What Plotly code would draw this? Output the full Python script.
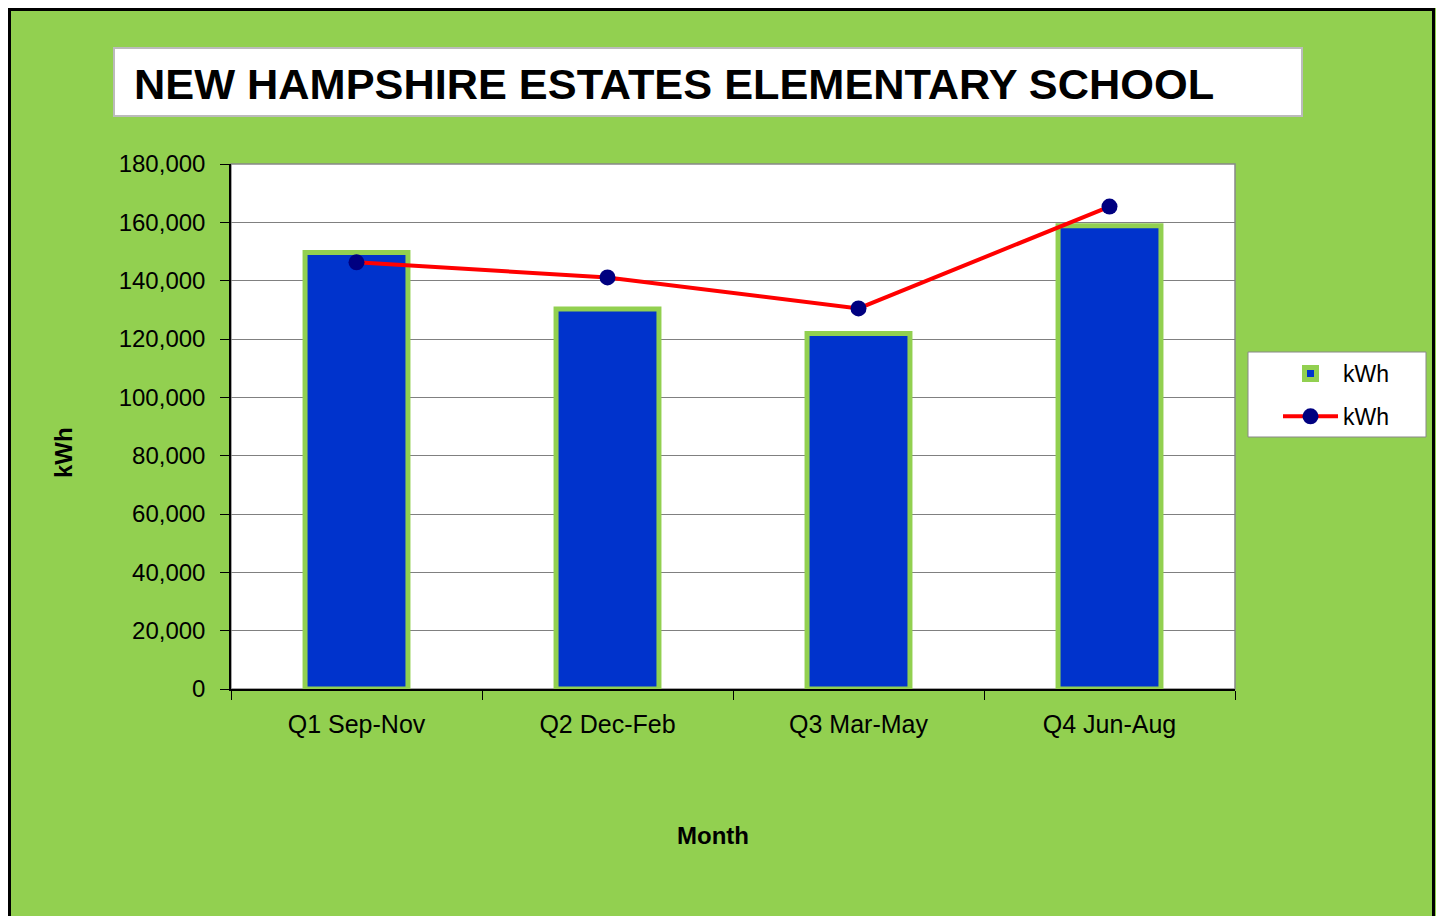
import plotly.graph_objects as go

categories = ["Q1 Sep-Nov", "Q2 Dec-Feb", "Q3 Mar-May", "Q4 Jun-Aug"]
bar_kwh = [149700, 130300, 121900, 158800]
line_kwh = [146300, 141100, 130500, 165400]
y_ticks = [0, 20000, 40000, 60000, 80000, 100000, 120000, 140000, 160000, 180000]
title_text = "NEW HAMPSHIRE ESTATES ELEMENTARY SCHOOL"

OFF = 8  # page body margin
W, H = 1444 - 2 * OFF, 924 - 2 * OFF
L, R, T, B = 231, 1235, 164, 689  # plot area in page pixels
pw, ph = R - L, B - T


def px(x):
    return (x - L) / pw


def py(y):
    return (B - y) / ph


FONT = "Liberation Sans, Arial, sans-serif"
GREEN = "#92D050"

fig = go.Figure()
fig.add_trace(go.Bar(
    x=categories, y=bar_kwh, name="kWh", legendgroup="a",
    marker=dict(color="#0033CC", line=dict(color=GREEN, width=5)),
    width=0.41,
))
fig.add_trace(go.Scatter(
    x=categories, y=line_kwh, name="kWh", mode="lines+markers", legendgroup="b",
    line=dict(color="#FF0000", width=4),
    marker=dict(color="#000080", size=16),
))

shapes = [
    dict(type="rect", xref="paper", yref="paper", x0=px(9.5), x1=px(1433.5),
         y0=py(1000), y1=py(9.5), line=dict(color="black", width=3), layer="below"),
    dict(type="rect", xref="paper", yref="paper", x0=px(114), x1=px(1302),
         y0=py(116), y1=py(48), fillcolor="white", line=dict(color="#BBBBBB", width=2), layer="below"),
    dict(type="rect", xref="paper", yref="paper", x0=0, x1=1, y0=0, y1=1,
         line=dict(color="#888888", width=1.5), layer="below"),
    dict(type="rect", xref="paper", yref="paper", x0=px(1248), x1=px(1426),
         y0=py(437), y1=py(352), fillcolor="white", line=dict(color="#888888", width=1), layer="below"),
]

annotations = [
    dict(text=title_text, xref="paper", yref="paper", x=px(132), y=py(84),
         xanchor="left", yanchor="middle", showarrow=False,
         font=dict(family=FONT, size=43.3, color="black", weight="bold")),
    dict(text="Month", xref="paper", yref="paper", x=px(713), y=py(835),
         xanchor="center", yanchor="middle", showarrow=False,
         font=dict(family=FONT, size=24, color="black", weight="bold")),
    dict(text="kWh", xref="paper", yref="paper", x=px(63), y=py(453),
         xanchor="center", yanchor="middle", showarrow=False, textangle=-90,
         font=dict(family=FONT, size=24, color="black", weight="bold")),
]

fig.update_layout(
    width=W, height=H,
    margin=dict(l=L - OFF, r=W - (R - OFF), t=T - OFF, b=H - (B - OFF), pad=0),
    paper_bgcolor=GREEN, plot_bgcolor="white",
    font=dict(family=FONT, size=24, color="black"),
    shapes=shapes, annotations=annotations,
    showlegend=True,
    legend=dict(x=px(1278), y=py(352), xanchor="left", yanchor="top",
                bgcolor="rgba(0,0,0,0)", borderwidth=0,
                font=dict(family=FONT, size=23, color="black"),
                itemwidth=55, tracegroupgap=10, traceorder="grouped"),
    bargap=0.59,
)
fig.update_xaxes(
    showline=True, linecolor="black", linewidth=1.5,
    ticks="outside", tickson="boundaries", ticklen=9, tickcolor="black",
    showgrid=False, tickfont=dict(family=FONT, size=25, color="black"),
    ticklabelstandoff=12,
)
fig.update_yaxes(
    range=[0, 180000], tickvals=y_ticks, tickformat=",d",
    showline=True, linecolor="black", linewidth=1.5,
    ticks="outside", ticklen=9, tickcolor="black",
    showgrid=True, gridcolor="#808080", gridwidth=1,
    tickfont=dict(family=FONT, size=24, color="black"),
    zeroline=False, ticklabelstandoff=10,
)

fig.write_html("out.html")
